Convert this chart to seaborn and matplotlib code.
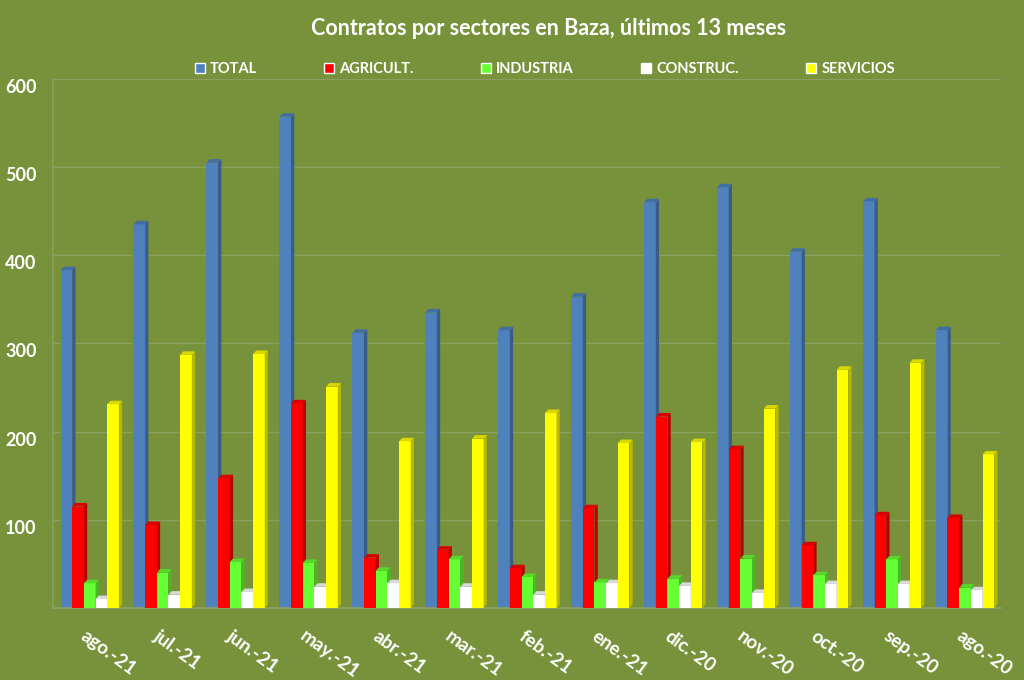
import seaborn as sns
import matplotlib.pyplot as plt
import matplotlib.colors as mcolors
from matplotlib.patches import Polygon
from matplotlib.transforms import ScaledTranslation
import pandas as pd

# Datos (contratos por sector y mes)
meses = ["ago.-21", "jul.-21", "jun.-21", "may.-21", "abr.-21", "mar.-21", "feb.-21",
         "ene.-21", "dic.-20", "nov.-20", "oct.-20", "sep.-20", "ago.-20"]
sectores = ["TOTAL", "AGRICULT.", "INDUSTRIA", "CONSTRUC.", "SERVICIOS"]
total = [383, 435, 505, 557, 312, 335, 315, 353, 460, 477, 404, 461, 315]
agricult = [115, 94, 147, 232, 57, 66, 45, 113, 217, 180, 71, 105, 102]
industria = [28, 40, 52, 51, 42, 55, 35, 29, 33, 56, 37, 55, 23]
construc = [10, 15, 18, 24, 28, 24, 15, 28, 25, 17, 27, 27, 20]
servicios = [231, 287, 288, 251, 189, 192, 221, 187, 188, 226, 270, 278, 174]

colores = ["#4F81BD", "#FF0000", "#66FF33", "#FFFFFF", "#FFFF00"]
fondo = "#77923A"

df = pd.DataFrame({"mes": meses * 5,
                   "sector": [s for s in sectores for _ in meses],
                   "valor": total + agricult + industria + construc + servicios})

sns.set_theme(style="white")
plt.rcParams["font.family"] = ["Lato", "DejaVu Sans"]

fig = plt.figure(figsize=(10.24, 6.8), dpi=100, facecolor=fondo)
ax = fig.add_axes([0.052, 0.106, 0.926, 0.778])
ax.set_facecolor(fondo)

sns.barplot(data=df, x="mes", y="valor", hue="sector", order=meses, hue_order=sectores,
            palette=colores, width=0.8, gap=0, saturation=1, ax=ax)

# efecto 3D: cara lateral y tapa más oscuras sobre cada barra
dx, dy = 0.045, 4.0
n = len(meses)
for i, p in enumerate(ax.patches[:n * len(sectores)]):
    k = i // n
    x0, w, h = p.get_x(), p.get_width(), p.get_height()
    base = mcolors.to_rgb(colores[k])
    oscuro = tuple(c * 0.72 for c in base)
    p.set_zorder(2 + 2 * k)
    p.set_edgecolor("none")
    lado = Polygon([(x0 + w, 0), (x0 + w + dx, dy), (x0 + w + dx, h + dy), (x0 + w, h)],
                   closed=True, facecolor=oscuro, edgecolor="none", zorder=3 + 2 * k)
    tapa = Polygon([(x0, h), (x0 + dx, h + dy), (x0 + w + dx, h + dy), (x0 + w, h)],
                   closed=True, facecolor=tuple(c * 0.85 for c in base), edgecolor="none",
                   zorder=3 + 2 * k)
    ax.add_patch(lado)
    ax.add_patch(tapa)

ax.set_xlim(-0.5, n - 0.5)
ax.set_ylim(0, 600)
ax.set_yticks(range(0, 700, 100))
ax.set_yticklabels(["", "100", "200", "300", "400", "500", "600"])
ax.grid(axis="y", color="#8C9F63", linewidth=1)
ax.set_axisbelow(True)
for lado_ax in ["top", "right"]:
    ax.spines[lado_ax].set_visible(False)
ax.spines["left"].set_color("#8C9F63")
ax.spines["bottom"].set_color("#8C9F63")
ax.set_xlabel("")
ax.set_ylabel("")

ax.tick_params(axis="y", length=0, pad=12, labelsize=13, labelcolor="white")
ax.tick_params(axis="x", length=0, pad=16, labelsize=13.5, labelcolor="white")
for lab in ax.get_yticklabels():
    lab.set_fontweight("bold")
    lab.set_transform(lab.get_transform() + ScaledTranslation(0, -0.07, fig.dpi_scale_trans))
for lab in ax.get_xticklabels():
    lab.set_fontweight("bold")
    lab.set_rotation(-36)
    lab.set_ha("left")
    lab.set_va("center")
    lab.set_rotation_mode("anchor")
    lab.set_transform(lab.get_transform() + ScaledTranslation(-0.07, -0.04, fig.dpi_scale_trans))

handles, labels = ax.get_legend_handles_labels()
ax.get_legend().remove()
leg = fig.legend(handles, labels, loc="center", bbox_to_anchor=(0.532, 0.898), ncol=5,
                 frameon=False, handlelength=0.7, handleheight=0.7, handletextpad=0.35,
                 columnspacing=4.6, fontsize=10.5)
for t in leg.get_texts():
    t.set_color("white")
    t.set_fontweight("bold")

fig.text(0.536, 0.958, "Contratos por sectores en Baza, últimos 13 meses", ha="center",
         va="center", color="white", fontsize=15.5, fontweight="bold")

fig.savefig("out.png", dpi=100, facecolor=fondo)
